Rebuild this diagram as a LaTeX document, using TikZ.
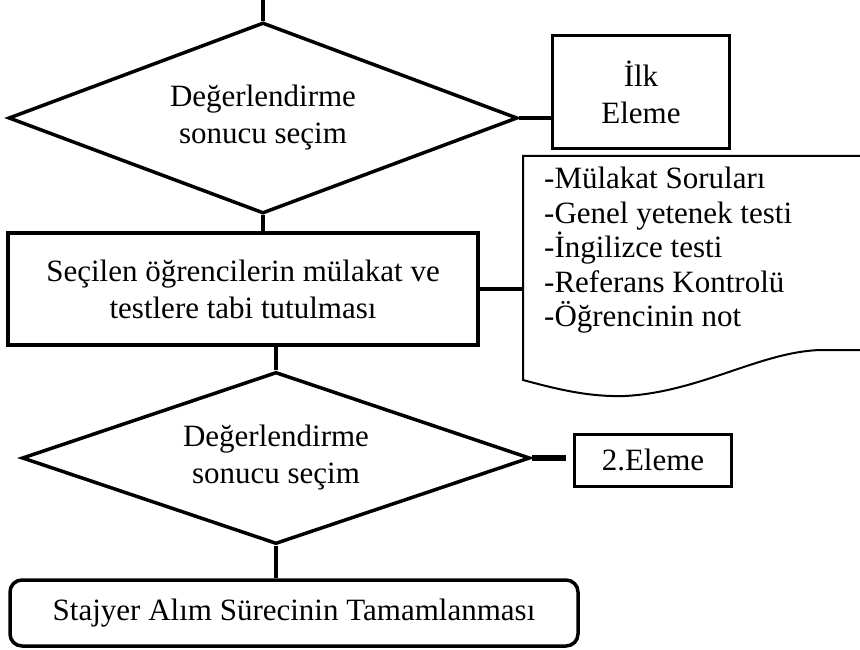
\documentclass[tikz,border=0pt]{standalone}
\usepackage{fontspec}
\setmainfont{Liberation Serif}
\usetikzlibrary{positioning}
\usetikzlibrary{shapes.geometric}
\newcommand{\flowfont}{\fontsize{31}{37}\selectfont}

\begin{document}
\begin{tikzpicture}[x=1pt,y=-1pt,
    flowline/.style={line width=3.5pt},
    decision/.style={draw, diamond, line width=3.5pt, inner sep=0pt, align=center, font=\flowfont},
    procbox/.style={draw, rectangle, line width=3.5pt, inner sep=0pt, align=center, font=\flowfont}]
    \useasboundingbox (0,0) rectangle (860,650);

    % First evaluation
    \coordinate (start) at (263,0);
    \node[decision, aspect=2.66, minimum width=509pt, minimum height=191pt] (dec1) at (263,118) {Değerlendirme\\sonucu seçim};
    \node[procbox, minimum width=177pt, minimum height=113pt] (elim1) at (641,92) {İlk\\Eleme};
    \draw[flowline] (start) -- (dec1.north);
    \draw[flowline] (dec1.east) -- (dec1.east -| elim1.west);

    % Interviews and tests
    \node[procbox, minimum width=470pt, minimum height=112pt] (select) at (243,289) {Seçilen öğrencilerin mülakat ve\\testlere tabi tutulması};
    \draw[flowline] (dec1.south) -- (dec1.south |- select.north);

    % Test list (document shape)
    \draw[line width=2pt] (875,156) -- (523,156) -- (523,380)
        .. controls (560,390) and (590,397) .. (625,396)
        .. controls (700,392) and (760,352) .. (820,350) -- (875,350);
    \node[font=\fontsize{31}{34.5}\selectfont, align=left, anchor=north west, inner sep=0pt] (tests) at (544,167)
        {-Mülakat Soruları\\-Genel yetenek testi\\-İngilizce testi\\-Referans Kontrolü\\-Öğrencinin not};
    \coordinate (testedge) at (523,289);
    \draw[flowline] (select.east) -- (testedge);

    % Second evaluation
    \node[decision, aspect=2.95, minimum width=508pt, minimum height=172pt] (dec2) at (276,458) {Değerlendirme\\sonucu seçim};
    \node[procbox, line width=3pt, minimum width=157pt, minimum height=52pt] (elim2) at (653,460) {2.Eleme};
    \draw[flowline] (select.south -| dec2.north) -- (dec2.north);
    \draw[line width=6pt] (dec2.east) -- ([xshift=-7pt]dec2.east -| elim2.west);

    % End of process
    \node[procbox, rounded corners=12pt, minimum width=568pt, minimum height=66pt] (finish) at (294,613) {Stajyer Alım Sürecinin Tamamlanması};
    \draw[flowline] (dec2.south) -- (dec2.south |- finish.north);
\end{tikzpicture}
\end{document}
